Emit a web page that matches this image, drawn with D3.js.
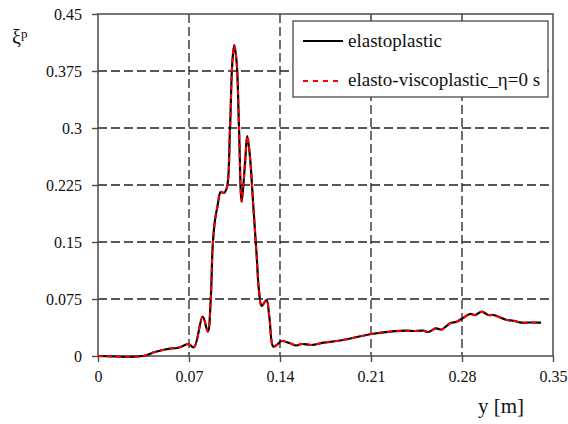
<!DOCTYPE html>
<html>
<head>
<meta charset="utf-8">
<script src="https://cdn.jsdelivr.net/npm/d3@7"></script>
<style>
  html, body { margin: 0; padding: 0; background: #fff; }
  svg text { font-family: "Liberation Serif", "Times New Roman", serif; }
</style>
</head>
<body>
<svg id="chart" width="568" height="424"></svg>
<script>
// Position along the section y [m]
const yPos = [0, 0.0346, 0.0438, 0.0515, 0.0567, 0.0608, 0.0654, 0.0696, 0.0738, 0.0805,
  0.0845, 0.0867, 0.0882, 0.09, 0.0918, 0.0944, 0.0969, 0.0992, 0.1015, 0.1033,
  0.1048, 0.1067, 0.1085, 0.1105, 0.1131, 0.1148, 0.1169, 0.1195, 0.1221, 0.1238,
  0.1259, 0.1296, 0.1318, 0.1348, 0.1375, 0.1413, 0.1477, 0.1523, 0.1569, 0.1644,
  0.1733, 0.1836, 0.1913, 0.2092, 0.2246, 0.2375, 0.2425, 0.2502, 0.2541, 0.26,
  0.2644, 0.2708, 0.2759, 0.2805, 0.2862, 0.29, 0.2952, 0.3002, 0.3041, 0.3144,
  0.3195, 0.3259, 0.3323, 0.3408];

// Equivalent plastic strain, elastoplastic model
const xiElastoplastic = [0, 0, 0.0053, 0.0086, 0.0101, 0.0105, 0.0132, 0.0158, 0.0114, 0.052,
  0.032, 0.0737, 0.1438, 0.179, 0.196, 0.216, 0.2145, 0.222, 0.297, 0.3855,
  0.409, 0.3855, 0.297, 0.203, 0.254, 0.2895, 0.262, 0.1964, 0.1307, 0.0868,
  0.0658, 0.0737, 0.0517, 0.0125, 0.0145, 0.0197, 0.0167, 0.0138, 0.0158, 0.0145,
  0.0175, 0.0197, 0.022, 0.0286, 0.032, 0.0333, 0.0329, 0.0333, 0.0316, 0.0364,
  0.0349, 0.043, 0.0451, 0.0496, 0.0553, 0.0539, 0.0583, 0.0539, 0.0539, 0.0474,
  0.0464, 0.0438, 0.0441, 0.0438];

// Elasto-viscoplastic model with zero viscosity gives the same response
const xiViscoplastic = xiElastoplastic.slice();

const xTicks = [0, 0.07, 0.14, 0.21, 0.28, 0.35];
const yTicks = [0, 0.075, 0.15, 0.225, 0.3, 0.375, 0.45];
const seriesNames = ["elastoplastic", "elasto-viscoplastic_\u03b7=0 s"];

const serif = "Liberation Serif";
const svg = d3.select("#chart").attr("font-family", serif);
const plotL = 98, plotR = 553, plotT = 14, plotB = 356;

const x = d3.scaleLinear().domain([0, 0.35]).range([plotL, plotR]);
const y = d3.scaleLinear().domain([0, 0.45]).range([plotB, plotT]);

const frameColor = "#4a4a4a";
const gridColor = "#222";

// Dashed grid
const grid = svg.append("g");
grid.selectAll("line.gx").data(xTicks.slice(1, -1)).join("line")
  .attr("x1", d => x(d)).attr("x2", d => x(d))
  .attr("y1", plotT).attr("y2", plotB)
  .attr("stroke", gridColor).attr("stroke-width", 1.3).attr("stroke-dasharray", "9,4");
grid.selectAll("line.gy").data(yTicks.slice(1, -1)).join("line")
  .attr("x1", plotL).attr("x2", plotR)
  .attr("y1", d => y(d)).attr("y2", d => y(d))
  .attr("stroke", gridColor).attr("stroke-width", 1.3).attr("stroke-dasharray", "9,4");

// Axes
const fmt = d => d === 0 ? "0" : String(d);
const xAxis = d3.axisBottom(x).tickValues(xTicks).tickFormat(fmt).tickSizeInner(6).tickSizeOuter(0).tickPadding(9);
const yAxis = d3.axisLeft(y).tickValues(yTicks).tickFormat(fmt).tickSizeInner(6).tickSizeOuter(0).tickPadding(10);

const gx = svg.append("g").attr("transform", `translate(0,${plotB})`).call(xAxis);
const gy = svg.append("g").attr("transform", `translate(${plotL},0)`).call(yAxis);
[gx, gy].forEach(g => {
  g.attr("font-family", serif).attr("font-size", 16);
  g.select(".domain").remove();
  g.selectAll(".tick line").attr("stroke", frameColor).attr("stroke-width", 1.4);
  g.selectAll(".tick text").attr("fill", "#111");
});

// Plot frame
svg.append("rect")
  .attr("x", plotL).attr("y", plotT)
  .attr("width", plotR - plotL).attr("height", plotB - plotT)
  .attr("fill", "none").attr("stroke", frameColor).attr("stroke-width", 1.5);

// Curves
const line = d3.line()
  .x(d => x(d[0])).y(d => y(d[1]))
  .curve(d3.curveCatmullRom.alpha(0.5));

const ep = yPos.map((v, i) => [v, xiElastoplastic[i]]);
const evp = yPos.map((v, i) => [v, xiViscoplastic[i]]);

svg.append("path").attr("d", line(ep))
  .attr("fill", "none").attr("stroke", "#000").attr("stroke-width", 2.2);
svg.append("path").attr("d", line(evp))
  .attr("fill", "none").attr("stroke", "#ff0000").attr("stroke-width", 2)
  .attr("stroke-dasharray", "5,4");

// Legend
const lg = svg.append("g");
lg.append("rect").attr("x", 293).attr("y", 21).attr("width", 255).attr("height", 76)
  .attr("fill", "#fff").attr("stroke", frameColor).attr("stroke-width", 1.3);
const legendRows = [
  { name: seriesNames[0], color: "#000", dash: null, w: 2.2, ly: 41, ty: 47 },
  { name: seriesNames[1], color: "#ff0000", dash: "5,5", w: 2, ly: 81, ty: 86 }
];
legendRows.forEach(r => {
  lg.append("line").attr("x1", 303).attr("x2", 343).attr("y1", r.ly).attr("y2", r.ly)
    .attr("stroke", r.color).attr("stroke-width", r.w)
    .attr("stroke-dasharray", r.dash);
  lg.append("text").attr("x", 348).attr("y", r.ty).text(r.name)
    .attr("font-family", serif).attr("font-size", 19).attr("fill", "#111");
});

// Axis titles
const yt = svg.append("text").attr("x", 12).attr("y", 44).attr("fill", "#111")
  .attr("font-family", serif);
yt.append("tspan").text("\u03be").attr("font-size", 20);
yt.append("tspan").text("p").attr("dy", -6).attr("font-size", 13);

svg.append("text").attr("x", 478).attr("y", 413).text("y [m]")
  .attr("font-family", serif).attr("font-size", 21).attr("fill", "#111");
</script>
</body>
</html>
